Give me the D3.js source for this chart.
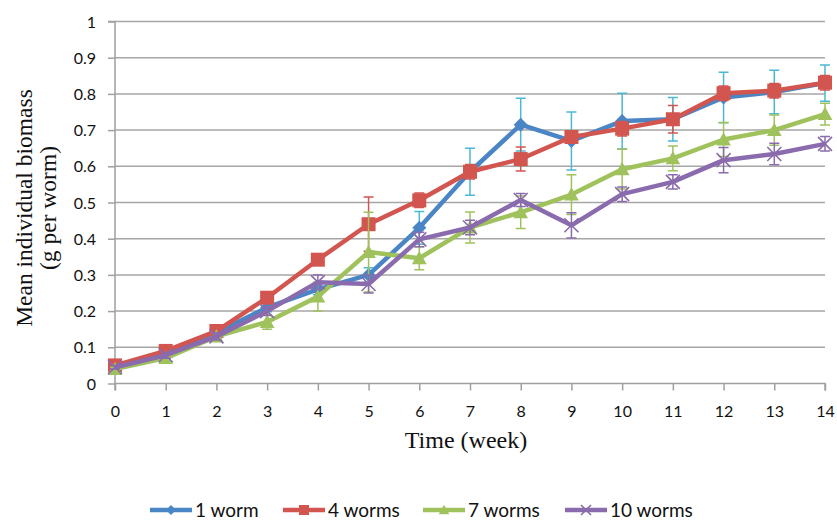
<!DOCTYPE html>
<meta charset="utf-8">
<style>
    body {
        margin: 0;
        overflow: hidden;
        background: #fff;
    }
    .tick text {
        font-family: Lato, "Open Sans", sans-serif;
        font-size: 16px;
        fill: #111;
    }
    .title {
        font-family: "Liberation Serif", "DejaVu Serif", serif;
        font-size: 24px;
        fill: #111;
    }
    .legend text {
        font-family: Lato, "Open Sans", sans-serif;
        font-size: 19px;
        fill: #111;
    }
</style>
<svg id="canvas" width="837" height="520"></svg>
<script src="https://d3js.org/d3.v7.min.js"></script>
<script>

    var weeks = [0, 1, 2, 3, 4, 5, 6, 7, 8, 9, 10, 11, 12, 13, 14];
    var yTicks = [0, 0.1, 0.2, 0.3, 0.4, 0.5, 0.6, 0.7, 0.8, 0.9, 1];
    var seriesNames = ["1 worm", "4 worms", "7 worms", "10 worms"];

    var worm1 = [0.05, 0.08, 0.14, 0.21, 0.26, 0.30, 0.43, 0.585, 0.715, 0.67, 0.725, 0.73, 0.79, 0.805, 0.83];
    var worm4 = [0.05, 0.09, 0.145, 0.237, 0.342, 0.44, 0.506, 0.585, 0.62, 0.681, 0.704, 0.73, 0.802, 0.809, 0.831];
    var worm7 = [0.04, 0.07, 0.13, 0.17, 0.24, 0.363, 0.346, 0.431, 0.473, 0.522, 0.592, 0.622, 0.674, 0.70, 0.744];
    var worm10 = [0.045, 0.078, 0.13, 0.20, 0.28, 0.275, 0.398, 0.431, 0.507, 0.437, 0.523, 0.557, 0.617, 0.634, 0.662];

    // +/- error values
    var err1 = [0.005, 0.008, 0.015, 0.012, 0.015, 0.02, 0.045, 0.065, 0.073, 0.08, 0.077, 0.06, 0.07, 0.06, 0.05];
    var err4 = [0.005, 0.008, 0.012, 0.012, 0.015, 0.075, 0.02, 0.02, 0.033, 0.015, 0.02, 0.038, 0.02, 0.02, 0.02];
    var err7 = [0.005, 0.008, 0.01, 0.02, 0.04, 0.11, 0.032, 0.043, 0.045, 0.055, 0.055, 0.034, 0.047, 0.042, 0.03];
    var err10 = [0.005, 0.008, 0.01, 0.012, 0.02, 0.025, 0.02, 0.02, 0.018, 0.035, 0.02, 0.02, 0.035, 0.03, 0.02];

    var lineColors = ["#4a86c6", "#d2554f", "#9fc25c", "#8a6bad"];
    var errColors = ["#4bb8d4", "#d2554f", "#9fc25c", "#8a6bad"];
    var shapes = ["diamond", "square", "triangle", "cross"];

    var svg = d3.select("svg");

    var x = d3.scaleLinear().domain([0, 14]).range([115, 825]);
    var y = d3.scaleLinear().domain([0, 1]).range([383.5, 21.5]);

    // gridlines
    svg.append("g")
       .selectAll("line")
       .data(yTicks.slice(1))
       .enter().append("line")
       .attr("x1", x(0)).attr("x2", x(14))
       .attr("y1", function(d) { return y(d); })
       .attr("y2", function(d) { return y(d); })
       .attr("stroke", "#a6a6a6")
       .attr("stroke-width", 1.5);

    var yAxis = svg.append("g")
                   .attr("transform", "translate(" + x(0) + ",0)")
                   .call(d3.axisLeft(y).tickValues(yTicks).tickSize(7).tickPadding(12)
                           .tickFormat(function(d) { return d === 0 || d === 1 ? d : d3.format(".1f")(d); }));

    var xAxis = svg.append("g")
                   .attr("transform", "translate(0," + y(0) + ")")
                   .call(d3.axisBottom(x).tickValues(weeks).tickSize(7).tickPadding(15));

    svg.selectAll(".domain").attr("stroke", "#a0a0a0").attr("stroke-width", 1.5);
    svg.selectAll(".tick line").attr("stroke", "#a0a0a0").attr("stroke-width", 1.5);
    yAxis.selectAll(".tick text").attr("dy", "0.35em");
    yAxis.select(".domain").attr("d", "M-7," + y(1) + "H0V" + y(0));
    xAxis.select(".domain").attr("d", "M" + x(0) + ",7V0H" + x(14) + "V7");

    // axis titles
    svg.append("text")
       .attr("class", "title")
       .attr("x", 466).attr("y", 448)
       .attr("text-anchor", "middle")
       .text("Time (week)");

    var yTitle = svg.append("text")
                    .attr("class", "title")
                    .style("font-size", "23.5px")
                    .attr("transform", "translate(32,208) rotate(-90)")
                    .attr("text-anchor", "middle");
    yTitle.append("tspan").attr("x", 0).attr("y", 0).text("Mean individual biomass");
    yTitle.append("tspan").attr("x", 0).attr("y", 24).text("(g per worm)");

    var marker = function(g, shape, color, s) {
        if (shape === "diamond") {
            g.append("path").attr("d", "M0," + (-s) + "L" + s + ",0L0," + s + "L" + (-s) + ",0Z").attr("fill", color);
        } else if (shape === "square") {
            g.append("rect").attr("x", -s).attr("y", -s).attr("width", 2 * s).attr("height", 2 * s).attr("fill", color);
        } else if (shape === "triangle") {
            g.append("path").attr("d", "M0," + (-s * 1.05) + "L" + (s * 1.05) + "," + (s * 0.85) + "L" + (-s * 1.05) + "," + (s * 0.85) + "Z").attr("fill", color);
        } else {
            g.append("path").attr("d", "M" + (-s) + "," + (-s) + "L" + s + "," + s + "M" + s + "," + (-s) + "L" + (-s) + "," + s)
             .attr("stroke", color).attr("stroke-width", 1.6).attr("fill", "none");
        }
    };

    var allValues = [worm1, worm4, worm7, worm10];
    var allErrors = [err1, err4, err7, err10];

    var line = d3.line()
                 .x(function(d) { return x(d[0]); })
                 .y(function(d) { return y(d[1]); });

    for (let k = 0; k < allValues.length; k++) {
        let pts = weeks.map(function(w, i) { return [w, allValues[k][i], allErrors[k][i]]; });
        let g = svg.append("g");

        g.append("path")
         .datum(pts)
         .attr("d", line)
         .attr("fill", "none")
         .attr("stroke", lineColors[k])
         .attr("stroke-width", 4.5)
         .attr("stroke-linejoin", "round");

        g.selectAll(".eb").data(pts).enter().append("path")
         .attr("d", function(d) {
             let cx = x(d[0]), t = y(d[1] + d[2]), b = y(d[1] - d[2]);
             return "M" + cx + "," + t + "V" + b + "M" + (cx - 5) + "," + t + "H" + (cx + 5) + "M" + (cx - 5) + "," + b + "H" + (cx + 5);
         })
         .attr("stroke", errColors[k])
         .attr("stroke-width", 1.5)
         .attr("fill", "none");

        g.selectAll(".mk").data(pts).enter().append("g")
         .attr("transform", function(d) { return "translate(" + x(d[0]) + "," + y(d[1]) + ")"; })
         .each(function() { marker(d3.select(this), shapes[k], lineColors[k], 7); });
    }

    // legend
    var legendX = [150, 283, 423, 565];
    var legend = svg.append("g").attr("class", "legend");
    for (let k = 0; k < seriesNames.length; k++) {
        let lg = legend.append("g").attr("transform", "translate(" + legendX[k] + ",510)");
        lg.append("line").attr("x1", 0).attr("x2", 42).attr("y1", 0).attr("y2", 0)
          .attr("stroke", lineColors[k]).attr("stroke-width", 4.5);
        let mg = lg.append("g").attr("transform", "translate(21,0)");
        marker(mg, shapes[k], lineColors[k], 5);
        lg.append("text").attr("x", 45).attr("y", 0).attr("dy", "0.35em").text(seriesNames[k]);
    }

</script>
